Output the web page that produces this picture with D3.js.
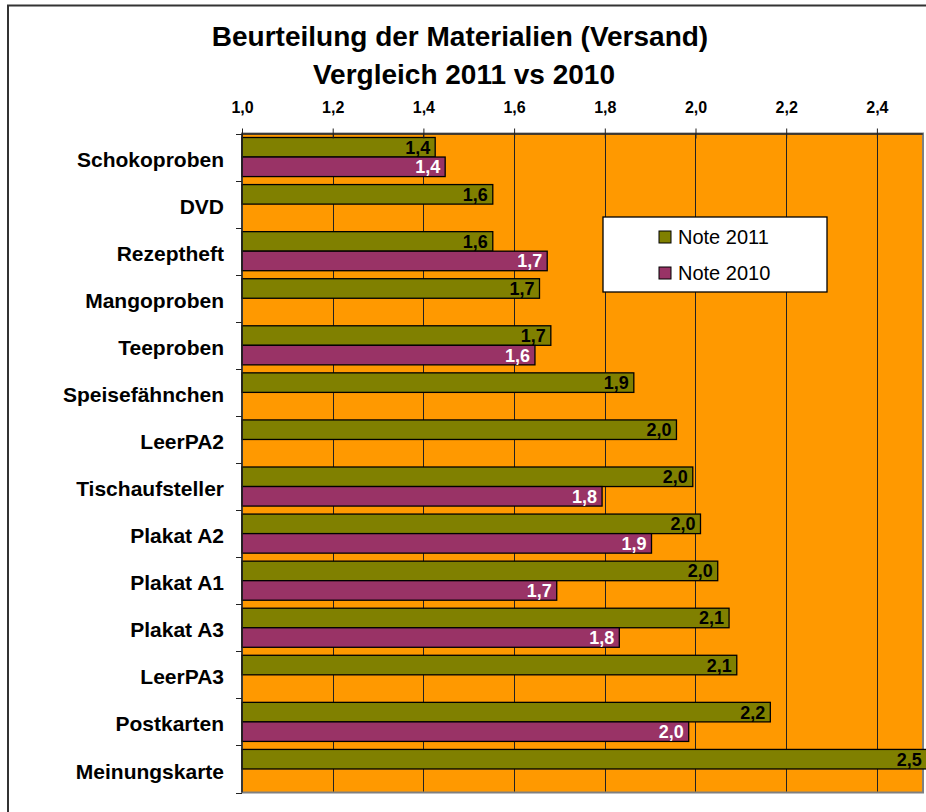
<!DOCTYPE html>
<html>
<head>
  <meta charset="utf-8">
  <title>Beurteilung der Materialien</title>
  <script src="https://d3js.org/d3.v7.min.js"></script>
  <style>
    body { margin: 0; background: #fff; }
    text { font-family: "Liberation Sans", Arial, sans-serif; }
  </style>
</head>
<body>
<div id="output"></div>

<script type="text/javascript">

  var categories = ["Schokoproben", "DVD", "Rezeptheft", "Mangoproben", "Teeproben",
    "Speisefähnchen", "LeerPA2", "Tischaufsteller", "Plakat A2", "Plakat A1",
    "Plakat A3", "LeerPA3", "Postkarten", "Meinungskarte"];

  var note2011 = [1.426, 1.553, 1.553, 1.656, 1.681, 1.864, 1.958, 1.994, 2.011, 2.049, 2.074, 2.091, 2.165, 2.51];
  var note2010 = [1.448, null, 1.673, null, 1.646, null, null, 1.794, 1.903, 1.694, 1.832, null, 1.985, null];

  var seriesNames = ["Note 2011", "Note 2010"];
  var xTicks = [1.0, 1.2, 1.4, 1.6, 1.8, 2.0, 2.2, 2.4];

  var w = 926, h = 812;
  var plot = {left: 242, top: 133.5, right: 923, bottom: 792.5};

  var svg = d3.select("#output").append("svg")
          .attr("width", w)
          .attr("height", h);

  // outer chart border
  svg.append("rect")
          .attr("x", 8).attr("y", 5.5)
          .attr("width", 960).attr("height", 900)
          .attr("fill", "#fff")
          .attr("stroke", "#333")
          .attr("stroke-width", 2);

  var x = d3.scaleLinear()
          .domain([1.0, 2.5])
          .range([plot.left, plot.left + 1.5 * 453.5]);

  var y = d3.scaleBand()
          .domain(categories)
          .range([plot.top, plot.bottom]);

  var y1 = d3.scaleBand()
          .domain(seriesNames)
          .range([4, y.bandwidth() - 4]);

  var colors = {"Note 2011": "#808000", "Note 2010": "#993366"};
  var fmt = function(v){ return d3.format(".1f")(v).replace(".", ","); };

  // plot area
  svg.append("rect")
          .attr("x", plot.left).attr("y", plot.top)
          .attr("width", plot.right - plot.left)
          .attr("height", plot.bottom - plot.top)
          .attr("fill", "#FF9900")
          .attr("stroke", "#808080")
          .attr("stroke-width", 2);

  // gridlines
  svg.selectAll(".grid")
          .data(xTicks.slice(1))
          .enter()
          .append("line")
          .attr("class", "grid")
          .attr("x1", function(d){ return Math.round(x(d)) + 0.5; })
          .attr("x2", function(d){ return Math.round(x(d)) + 0.5; })
          .attr("y1", plot.top)
          .attr("y2", plot.bottom - 1)
          .attr("stroke", "#222")
          .attr("stroke-width", 1);

  var rows = categories.map(function(c, i){
    return {cat: c, values: [
      {name: "Note 2011", v: note2011[i]},
      {name: "Note 2010", v: note2010[i]}
    ]};
  });

  var groups = svg.selectAll(".group")
          .data(rows)
          .enter()
          .append("g")
          .attr("class", "group")
          .attr("transform", function(d){ return "translate(0," + y(d.cat) + ")"; });

  var bars = groups.selectAll(".bar")
          .data(function(d){ return d.values.filter(function(e){ return e.v != null; }); })
          .enter();

  bars.append("rect")
          .attr("class", "bar")
          .attr("x", x(1.0))
          .attr("y", function(d){ return y1(d.name); })
          .attr("width", function(d){ return x(d.v) - x(1.0); })
          .attr("height", y1.bandwidth())
          .attr("fill", function(d){ return colors[d.name]; })
          .attr("stroke", "#000")
          .attr("stroke-width", 1.3);

  bars.append("text")
          .attr("x", function(d){ return x(d.v) - 5; })
          .attr("y", function(d){ return y1(d.name) + y1.bandwidth() / 2; })
          .attr("dy", "0.36em")
          .attr("text-anchor", "end")
          .attr("font-size", 18)
          .attr("font-weight", "bold")
          .attr("fill", function(d){ return d.name == "Note 2011" ? "#000" : "#fff"; })
          .text(function(d){ return fmt(d.v); });

  // top axis
  var xAxis = d3.axisTop(x)
          .tickValues(xTicks)
          .tickSizeInner(5)
          .tickSizeOuter(0)
          .tickPadding(16)
          .tickFormat(fmt);

  var gx = svg.append("g")
          .attr("transform", "translate(0," + plot.top + ")")
          .call(xAxis);
  gx.select(".domain").attr("stroke", "#222").attr("stroke-width", 1.5);
  gx.selectAll(".tick line").attr("y2", -5).attr("y1", 5).attr("stroke", "#222");
  gx.selectAll(".tick text")
          .attr("font-size", 16)
          .attr("font-weight", "bold")
          .attr("fill", "#000")
          .style("font-family", "'Liberation Sans', Arial, sans-serif");

  // left axis
  svg.append("line")
          .attr("x1", plot.left).attr("x2", plot.left)
          .attr("y1", plot.top).attr("y2", plot.bottom)
          .attr("stroke", "#222")
          .attr("stroke-width", 1.5);

  svg.selectAll(".ytick")
          .data(categories.concat([null]))
          .enter()
          .append("line")
          .attr("class", "ytick")
          .attr("x1", plot.left - 6).attr("x2", plot.left)
          .attr("y1", function(d, i){ return Math.round(plot.top + i * y.step()) + 0.5; })
          .attr("y2", function(d, i){ return Math.round(plot.top + i * y.step()) + 0.5; })
          .attr("stroke", "#222");

  svg.selectAll(".ylabel")
          .data(categories)
          .enter()
          .append("text")
          .attr("class", "ylabel")
          .attr("x", 224)
          .attr("y", function(d){ return y(d) + y.bandwidth() / 2 + 2; })
          .attr("dy", "0.36em")
          .attr("text-anchor", "end")
          .attr("font-size", 21)
          .attr("font-weight", "bold")
          .text(function(d){ return d; });

  // title
  svg.append("text")
          .attr("x", 460).attr("y", 46)
          .attr("text-anchor", "middle")
          .attr("font-size", 28)
          .attr("font-weight", "bold")
          .text("Beurteilung der Materialien (Versand)");
  svg.append("text")
          .attr("x", 464).attr("y", 84)
          .attr("text-anchor", "middle")
          .attr("font-size", 28)
          .attr("font-weight", "bold")
          .text("Vergleich 2011 vs 2010");

  // legend
  var legend = svg.append("g").attr("transform", "translate(603,217)");
  legend.append("rect")
          .attr("width", 224).attr("height", 75)
          .attr("fill", "#fff")
          .attr("stroke", "#000")
          .attr("stroke-width", 1.3);
  var items = legend.selectAll(".item")
          .data(seriesNames)
          .enter()
          .append("g")
          .attr("transform", function(d, i){ return "translate(56," + (20 + i * 36) + ")"; });
  items.append("rect")
          .attr("x", 0).attr("y", -6)
          .attr("width", 12).attr("height", 12)
          .attr("fill", function(d){ return colors[d]; })
          .attr("stroke", "#000");
  items.append("text")
          .attr("x", 19).attr("y", 0)
          .attr("dy", "0.36em")
          .attr("font-size", 20)
          .text(function(d){ return d; });

</script>
</body>
</html>
